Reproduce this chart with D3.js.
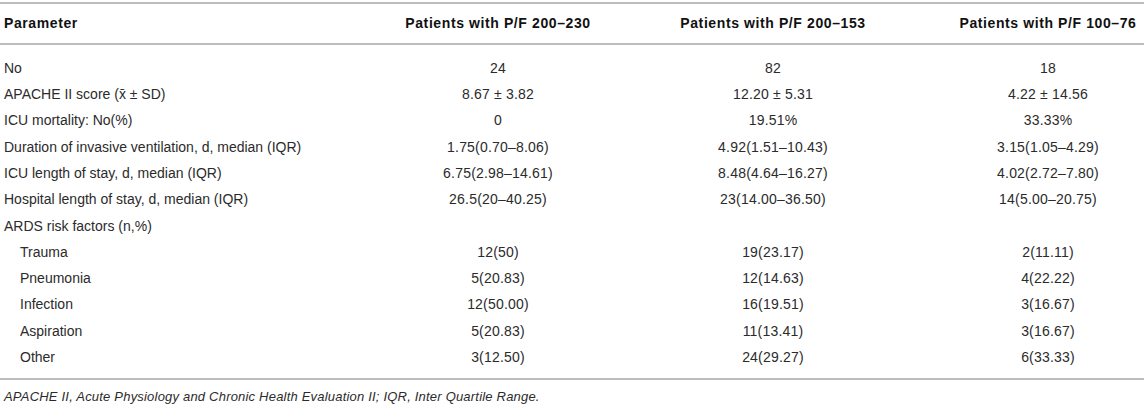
<!DOCTYPE html>
<html>
<head>
<meta charset="utf-8">
<script src="https://cdn.jsdelivr.net/npm/d3@7"></script>
<style>
  body { margin: 0; background: #fff; }
  svg text { font-family: "Liberation Sans", Arial, Helvetica, sans-serif; }
</style>
</head>
<body>
<div id="table"></div>
<script>
// table content
const headers = ["Parameter", "Patients with P/F 200–230", "Patients with P/F 200–153", "Patients with P/F 100–76"];

const parameters = [
  "No",
  "APACHE II score (x̄ ± SD)",
  "ICU mortality: No(%)",
  "Duration of invasive ventilation, d, median (IQR)",
  "ICU length of stay, d, median (IQR)",
  "Hospital length of stay, d, median (IQR)",
  "ARDS risk factors (n,%)",
  "Trauma",
  "Pneumonia",
  "Infection",
  "Aspiration",
  "Other"
];

// rows listed under "ARDS risk factors"
const riskFactors = ["Trauma", "Pneumonia", "Infection", "Aspiration", "Other"];

const group200_230 = ["24", "8.67 ± 3.82", "0", "1.75(0.70–8.06)", "6.75(2.98–14.61)", "26.5(20–40.25)", "",
  "12(50)", "5(20.83)", "12(50.00)", "5(20.83)", "3(12.50)"];
const group200_153 = ["82", "12.20 ± 5.31", "19.51%", "4.92(1.51–10.43)", "8.48(4.64–16.27)", "23(14.00–36.50)", "",
  "19(23.17)", "12(14.63)", "16(19.51)", "11(13.41)", "24(29.27)"];
const group100_76 = ["18", "4.22 ± 14.56", "33.33%", "3.15(1.05–4.29)", "4.02(2.72–7.80)", "14(5.00–20.75)", "",
  "2(11.11)", "4(22.22)", "3(16.67)", "3(16.67)", "6(33.33)"];

const footnote = "APACHE II, Acute Physiology and Chronic Health Evaluation II; IQR, Inter Quartile Range.";

const width = 1144, height = 406;
const lineColor = "#bdbdbd";
const textColor = "#2b2b2b";

const svg = d3.select("#table")
  .append("svg")
  .attr("width", width)
  .attr("height", height)
  .attr("viewBox", [0, 0, width, height]);

// row positions
const yScale = d3.scalePoint()
  .domain(d3.range(parameters.length))
  .range([68, 357]);

// column centres for the three patient groups
const xScale = d3.scalePoint()
  .domain([1, 2, 3])
  .range([498, 1048]);

const columns = [group200_230, group200_153, group100_76];

// horizontal rules
svg.selectAll("line.rule")
  .data([3, 44, 379])
  .enter()
  .append("line")
    .attr("class", "rule")
    .attr("x1", 0)
    .attr("x2", width)
    .attr("y1", d => d)
    .attr("y2", d => d)
    .attr("stroke", lineColor)
    .attr("stroke-width", 2);

// header
svg.selectAll("text.header")
  .data(headers)
  .enter()
  .append("text")
    .attr("class", "header")
    .attr("x", (d, i) => i === 0 ? 4 : xScale(i))
    .attr("y", 23)
    .attr("dy", "0.35em")
    .attr("text-anchor", (d, i) => i === 0 ? "start" : "middle")
    .attr("font-size", "14px")
    .attr("font-weight", "bold")
    .attr("letter-spacing", "0.6px")
    .attr("fill", "#111")
    .text(d => d);

// parameter names
svg.selectAll("text.param")
  .data(parameters)
  .enter()
  .append("text")
    .attr("class", "param")
    .attr("x", d => riskFactors.includes(d) ? 20 : 4)
    .attr("y", (d, i) => yScale(i))
    .attr("dy", "0.35em")
    .attr("font-size", "14px")
    .attr("fill", textColor)
    .text(d => d);

// values, one group per column
columns.forEach(function(values, c) {
  svg.selectAll("text.col" + c)
    .data(values)
    .enter()
    .append("text")
      .attr("class", "col" + c)
      .attr("x", xScale(c + 1))
      .attr("y", (d, i) => yScale(i))
      .attr("dy", "0.35em")
      .attr("text-anchor", "middle")
      .attr("font-size", "14px")
      .attr("letter-spacing", "0.2px")
      .attr("fill", textColor)
      .text(d => d);
});

svg.append("text")
  .attr("x", 4)
  .attr("y", 396)
  .attr("dy", "0.35em")
  .attr("font-size", "13px")
  .attr("font-style", "italic")
  .attr("letter-spacing", "0.2px")
  .attr("fill", textColor)
  .text(footnote);
</script>
</body>
</html>
